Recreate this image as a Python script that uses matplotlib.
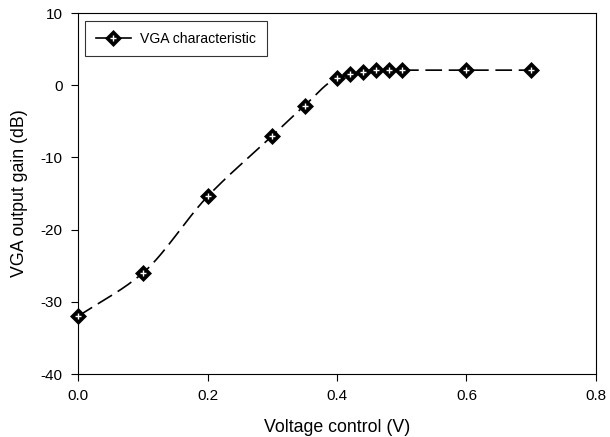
import numpy as np
import matplotlib.pyplot as plt
from matplotlib.lines import Line2D

plt.rcParams['font.family'] = ['Liberation Sans', 'DejaVu Sans']
plt.rcParams['axes.unicode_minus'] = False

# Daten
v_ctrl = [0.0, 0.1, 0.2, 0.3, 0.35, 0.4, 0.42, 0.44, 0.46, 0.48, 0.5, 0.6, 0.7]
gain_db = [-32.0, -26.0, -15.4, -7.0, -2.8, 1.0, 1.5, 1.9, 2.1, 2.1, 2.1, 2.1, 2.1]

x = np.array(v_ctrl)
y = np.array(gain_db)

# monotone kubische Kurve nur fuer die Linie (Fritsch-Carlson)
h = np.diff(x)
d = np.diff(y) / h
m = np.zeros_like(y)
m[0], m[-1] = d[0], d[-1]
for k in range(1, len(x) - 1):
    if d[k - 1] * d[k] <= 0:
        m[k] = 0
    else:
        w1 = 2 * h[k] + h[k - 1]
        w2 = h[k] + 2 * h[k - 1]
        m[k] = (w1 + w2) / (w1 / d[k - 1] + w2 / d[k])
xs, ys = [], []
for k in range(len(x) - 1):
    t = np.linspace(0, 1, 40)
    h00 = 2*t**3 - 3*t**2 + 1
    h10 = t**3 - 2*t**2 + t
    h01 = -2*t**3 + 3*t**2
    h11 = t**3 - t**2
    xs.append(x[k] + t * h[k])
    ys.append(h00*y[k] + h10*h[k]*m[k] + h01*y[k+1] + h11*h[k]*m[k+1])
xs = np.concatenate(xs)
ys = np.concatenate(ys)

fig = plt.figure(figsize=(6.1, 4.37), dpi=100)
ax = fig.add_axes([0.128, 0.144, 0.849, 0.826])

ax.plot(xs, ys, color='black', lw=1.2, dashes=(10, 4))
# Marker: schwarze Raute mit weissem Kreuz
ax.plot(x, y, ls='none', marker='D', ms=8.5, mfc='black', mec='black', mew=0.5,
        clip_on=False, zorder=3)
ax.plot(x, y, ls='none', marker='+', ms=4, mec='white', mew=1.0,
        clip_on=False, zorder=4)

# Legende
h_leg = (Line2D([], [], color='black', lw=1.2, marker='D', ms=8.5, mfc='black', mec='black', mew=0.5),
         Line2D([], [], ls='none', marker='+', ms=4, mec='white', mew=1.0))

ax.set_xlim(0, 0.8)
ax.set_ylim(-40, 10)
ax.set_xticks([0.0, 0.2, 0.4, 0.6, 0.8])
ax.set_xticklabels(['0.0', '0.2', '0.4', '0.6', '0.8'])
ax.set_yticks([-40, -30, -20, -10, 0, 10])
ax.tick_params(direction='out', length=5, labelsize=11, width=0.8, pad=6)
for s in ax.spines.values():
    s.set_linewidth(0.8)
ax.set_xlabel('Voltage control (V)', fontsize=12.8, labelpad=11)
ax.set_ylabel('VGA output gain (dB)', fontsize=12.8, labelpad=9)

leg = ax.legend([h_leg], ['VGA characteristic'], loc='upper left', fontsize=10.1,
                frameon=True, fancybox=False, edgecolor='black', borderpad=0.75,
                handlelength=2.5, handletextpad=0.7, borderaxespad=0,
                bbox_to_anchor=(0.0135, 0.978))
leg.get_frame().set_linewidth(0.8)

fig.savefig('out.png', dpi=100)
